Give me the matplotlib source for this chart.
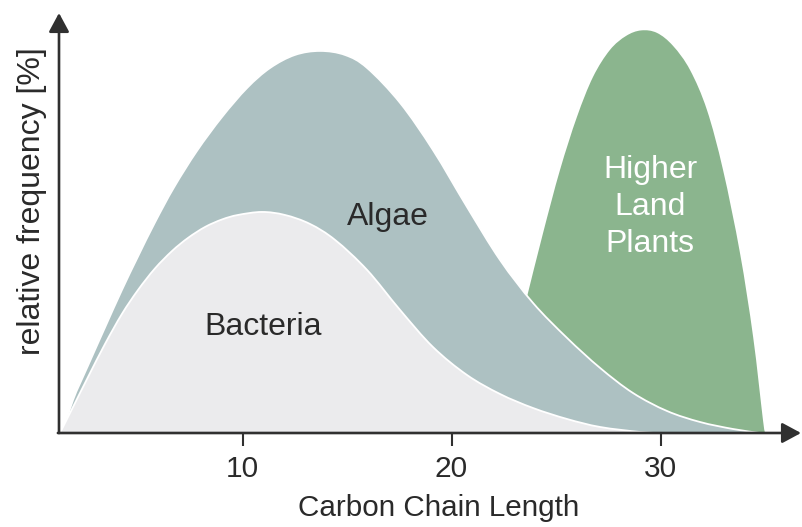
import matplotlib
matplotlib.use("Agg")
import matplotlib.pyplot as plt
import numpy as np
from matplotlib.path import Path
from matplotlib.patches import PathPatch

plt.rcParams['font.family'] = ['Liberation Sans', 'DejaVu Sans']

# ---- data ----
bacteria_x = [1.27, 1.89, 2.61, 3.42, 4.23, 5.00, 5.81, 6.63, 7.39, 8.21, 9.02, 9.78,
              10.93, 12.03, 13.23, 14.43, 15.96, 17.54, 19.11, 20.74, 22.32, 23.90,
              25.53, 27.11, 29.02, 29.98]
bacteria_y = [0.0, 6.45, 13.90, 22.08, 29.53, 35.48, 40.82, 45.16, 48.39, 51.12, 52.98, 54.09,
              54.84, 54.09, 51.86, 47.89, 40.45, 30.52, 21.34, 14.39, 9.68, 6.20,
              3.47, 1.49, 0.25, 0.0]

algae_x = [1.41, 1.89, 2.61, 3.42, 4.23, 5.00, 5.81, 6.72, 7.82, 9.02, 10.22, 11.32,
           12.51, 13.71, 14.90, 15.96, 17.54, 19.11, 20.74, 22.32, 23.90, 25.53,
           27.11, 28.68, 30.31, 31.89, 33.47, 34.76]
algae_y = [0.0, 8.19, 16.75, 26.18, 35.48, 43.80, 52.23, 60.92, 69.98, 78.41, 85.61, 90.57,
           93.80, 94.79, 93.80, 90.57, 81.89, 70.22, 56.08, 42.93, 32.26, 23.57,
           16.13, 9.93, 5.46, 2.73, 0.99, 0.0]

plants_x = [23.61, 24.38, 25.19, 26.00, 26.77, 27.58, 28.35, 29.07, 29.83,
            30.60, 31.41, 32.22, 32.99, 33.80, 34.43, 34.90, 35.00]
plants_y = [33.75, 49.63, 65.26, 78.41, 88.34, 95.04, 98.51, 99.88, 99.26,
            96.03, 90.07, 80.15, 65.26, 44.67, 23.82, 3.23, 0.0]

x_ticks = [10, 20, 30]
x_tick_labels = ['10', '20', '30']
x_label = 'Carbon Chain Length'
y_label = 'relative frequency [%]'
label_bacteria = 'Bacteria'
label_algae = 'Algae'
label_plants = 'Higher\nLand\nPlants'

# ---- styles ----
c_bact = '#ebebed'
c_algae = '#adc1c2'
c_plants = '#8bb58e'
c_axis = '#303030'
c_text = '#2a2a2a'


def smooth_path(xs, ys, close_to_base=True):
    """Smooth curve through the given points (Catmull-Rom as cubic Beziers)."""
    P = np.column_stack([xs, ys]).astype(float)
    n = len(P)
    ext = np.vstack([P[0], P, P[-1]])
    verts = [tuple(P[0])]
    codes = [Path.MOVETO]
    for i in range(n - 1):
        p0, p1, p2, p3 = ext[i], ext[i + 1], ext[i + 2], ext[i + 3]
        c1 = p1 + (p2 - p0) / 6.0
        c2 = p2 - (p3 - p1) / 6.0
        verts += [tuple(c1), tuple(c2), tuple(p2)]
        codes += [Path.CURVE4] * 3
    if close_to_base:
        verts += [(P[-1, 0], 0.0), (P[0, 0], 0.0), (P[0, 0], P[0, 1])]
        codes += [Path.LINETO, Path.LINETO, Path.CLOSEPOLY]
    return Path(verts, codes)


fig = plt.figure(figsize=(8.02, 5.27), dpi=100)
ax = fig.add_axes([59 / 802, 94 / 527, 742 / 802, 420 / 527])
ax.set_xlim(1.22, 36.72)
ax.set_ylim(0, 104.2)

ax.add_patch(PathPatch(smooth_path(plants_x, plants_y), facecolor=c_plants,
                       edgecolor='none', zorder=1))
ax.add_patch(PathPatch(smooth_path(algae_x, algae_y), facecolor=c_algae,
                       edgecolor='none', zorder=2))
ax.add_patch(PathPatch(smooth_path(algae_x, algae_y, close_to_base=False),
                       facecolor='none', edgecolor='white', lw=1.3, zorder=2.1))
ax.add_patch(PathPatch(smooth_path(bacteria_x, bacteria_y), facecolor=c_bact,
                       edgecolor='none', zorder=3))
ax.add_patch(PathPatch(smooth_path(bacteria_x, bacteria_y, close_to_base=False),
                       facecolor='none', edgecolor='white', lw=1.3, zorder=3.1))

for s in ax.spines.values():
    s.set_visible(False)

arrow_kw = dict(arrowstyle='-|>,head_length=11.5,head_width=6.2', color=c_axis,
                lw=1.9, shrinkA=0, shrinkB=0, mutation_scale=1)
ax.annotate('', xy=(0, 1), xytext=(0, 0), xycoords='axes fraction',
            arrowprops=arrow_kw, zorder=5, annotation_clip=False)
ax.annotate('', xy=(1, 0), xytext=(-0.0015, 0), xycoords='axes fraction',
            arrowprops=arrow_kw, zorder=5, annotation_clip=False)

ax.set_xticks(x_ticks)
ax.set_xticklabels(x_tick_labels)
ax.set_yticks([])
ax.tick_params(axis='x', direction='out', length=9, width=1.5, color=c_axis,
               pad=7, labelsize=21.5, labelcolor=c_text)

ax.set_xlabel(x_label, fontsize=21.3, color=c_text)
ax.xaxis.set_label_coords(0.511, -0.145)
ax.set_ylabel(y_label, fontsize=23, color=c_text)
ax.yaxis.set_label_coords(-0.016, 0.552)

ax.text(10.98, 24.3, label_bacteria, fontsize=23, color=c_text,
        ha='center', va='baseline', zorder=6)
ax.text(16.94, 51.6, label_algae, fontsize=23, color=c_text,
        ha='center', va='baseline', zorder=6)
ax.text(29.5, 44.9, label_plants, fontsize=23, color='white',
        ha='center', va='baseline', multialignment='center', linespacing=1.31, zorder=6)

fig.savefig('out.png', dpi=100)
